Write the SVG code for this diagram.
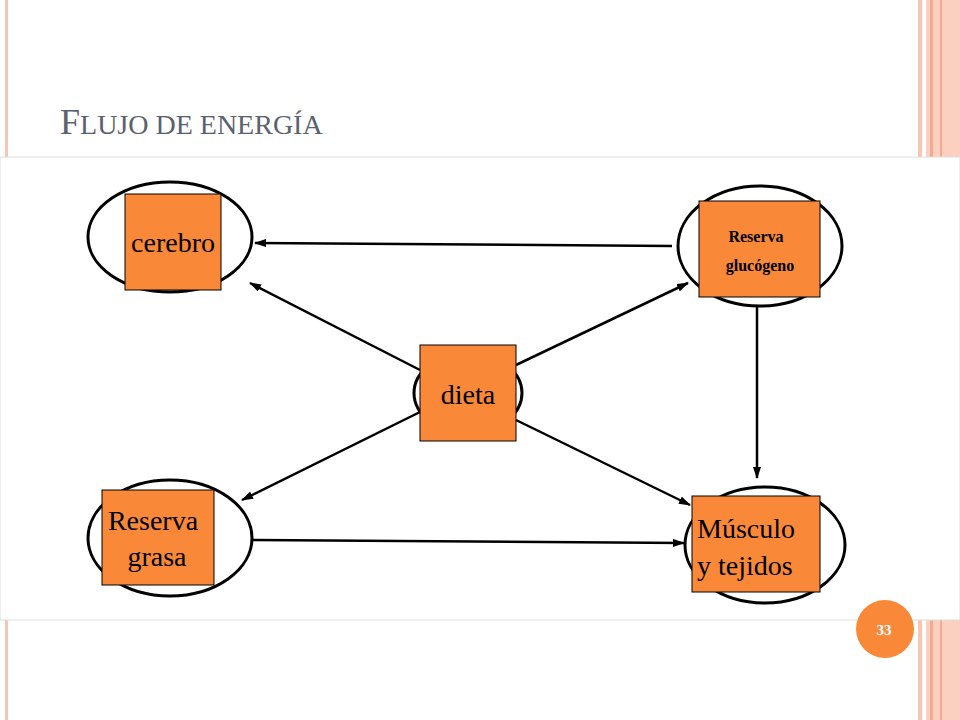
<svg xmlns="http://www.w3.org/2000/svg" width="960" height="720" viewBox="0 0 960 720">
<style>
.el{fill:#fff;stroke:#000;stroke-width:3}
.bx{fill:#f98838;stroke:#000;stroke-width:1}
.t{font-family:"Liberation Serif",serif;fill:#000}
.c line{stroke:#000;stroke-width:2.5;marker-end:url(#a)}
</style>
<defs><marker id="a" markerWidth="12" markerHeight="8" refX="11" refY="4" orient="auto" markerUnits="userSpaceOnUse"><path d="M0,0 L12,4 L0,8 Z" fill="#000"/></marker></defs>
<rect width="960" height="720" fill="#fff"/>
<rect x="5" y="0" width="3" height="720" fill="#f9c4b0"/>
<rect x="918" y="0" width="4" height="720" fill="#f9c4b0"/>
<rect x="926" y="0" width="34" height="720" fill="#fbd0c0"/>
<rect x="930" y="0" width="3" height="720" fill="#f5a98e"/>
<rect x="940" y="0" width="2" height="720" fill="#f5a98e"/>
<text x="60" y="134" font-family="Liberation Serif,serif" font-size="36" fill="#5a6170">F<tspan font-size="28">LUJO DE ENERGÍA</tspan></text>
<rect x="0" y="157" width="960" height="463" fill="#fff" stroke="#ddd" stroke-width="1"/>
<g class="c">
<line x1="672" y1="246" x2="255" y2="243"/>
<line x1="420" y1="370" x2="250" y2="283"/>
<line x1="516" y1="365" x2="688" y2="283"/>
<line x1="420" y1="412" x2="242" y2="500"/>
<line x1="516" y1="420" x2="690" y2="505"/>
<line x1="252" y1="540" x2="684" y2="543"/>
<line x1="757" y1="307" x2="757" y2="478"/>
</g>
<g id="cerebro"><ellipse class="el" cx="170" cy="237" rx="82" ry="55"/><rect class="bx" x="125" y="194" width="96" height="96"/><text class="t" x="173" y="252" font-size="28" text-anchor="middle">cerebro</text></g>
<g id="glucogeno"><ellipse class="el" cx="760" cy="246" rx="82" ry="60"/><rect class="bx" x="699" y="201" width="121" height="96"/><text class="t" x="756" y="242" font-size="16" font-weight="bold" text-anchor="middle">Reserva</text><text class="t" x="760" y="271" font-size="16" font-weight="bold" text-anchor="middle">glucógeno</text></g>
<g id="dieta"><ellipse class="el" cx="468" cy="393" rx="54" ry="40"/><rect class="bx" x="420" y="345" width="96" height="96"/><text class="t" x="468" y="404" font-size="28" text-anchor="middle">dieta</text></g>
<g id="grasa"><ellipse class="el" cx="170" cy="538" rx="82" ry="58"/><rect class="bx" x="102" y="490" width="112" height="95"/><text class="t" x="153" y="530" font-size="28" text-anchor="middle">Reserva</text><text class="t" x="157" y="566" font-size="28" text-anchor="middle">grasa</text></g>
<g id="musculo"><ellipse class="el" cx="765" cy="545" rx="80" ry="58"/><rect class="bx" x="692" y="496" width="128" height="96"/><text class="t" x="697" y="538" font-size="28">Músculo</text><text class="t" x="697" y="575" font-size="28">y tejidos</text></g>
<circle cx="885" cy="629" r="29" fill="#f98838"/>
<text x="884" y="635" font-family="Liberation Serif,serif" font-size="15" font-weight="bold" fill="#fff" text-anchor="middle">33</text>
</svg>
